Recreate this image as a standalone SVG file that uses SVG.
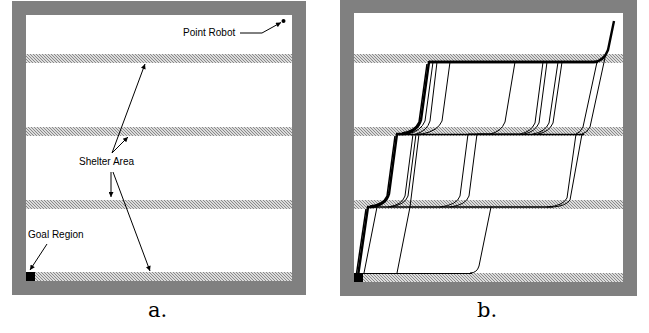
<svg xmlns="http://www.w3.org/2000/svg" width="649" height="333" viewBox="0 0 649 333">
<defs>
<pattern id="hatch" width="3" height="3" patternUnits="userSpaceOnUse">
<rect width="3" height="3" fill="#dcdcdc"/>
<rect x="0" y="0" width="1" height="1" fill="#8a8a8a"/>
<rect x="1" y="1" width="1" height="1" fill="#8a8a8a"/>
<rect x="2" y="2" width="1" height="1" fill="#8a8a8a"/>
</pattern>
<marker id="ah" viewBox="0 0 10 10" refX="10" refY="5" markerWidth="7" markerHeight="5" markerUnits="userSpaceOnUse" orient="auto">
<path d="M0,0 L10,5 L0,10 Z" fill="#000"/>
</marker>
<style>
.frame{fill:#808080}
.inner{fill:#fff}
.band{fill:url(#hatch)}
.lbl{font-family:"Liberation Sans",Arial,sans-serif;font-size:10px;fill:#000}
.cap{font-family:"DejaVu Serif","Liberation Serif",serif;font-size:21px;fill:#000;text-anchor:middle}
.arr{fill:none;stroke:#000;stroke-width:1;marker-end:url(#ah)}
.tr{fill:none;stroke:#000;stroke-width:1;stroke-linejoin:round}
.trm{fill:none;stroke:#000;stroke-width:1.5;stroke-linejoin:round}
.trt{fill:none;stroke:#000;stroke-width:2.4;stroke-linejoin:round}
</style>
</defs>

<!-- Panel a -->
<g id="panel-a">
<rect class="frame" x="12" y="1" width="294" height="294"/>
<rect class="inner" x="26" y="15" width="266" height="266"/>
<g id="a-shelters">
<rect class="band" x="26" y="54" width="266" height="9"/>
<rect class="band" x="26" y="127" width="266" height="9"/>
<rect class="band" x="26" y="200" width="266" height="9"/>
<rect class="band" x="26" y="272" width="266" height="9"/>
</g>
<g id="a-goal"><rect x="26" y="272" width="9" height="9" fill="#000"/></g>
<g id="a-robot"><circle cx="283.5" cy="21" r="2" fill="#000"/></g>
<g id="a-label-robot"><text class="lbl" x="183" y="36">Point Robot</text></g>
<g id="a-label-shelter"><text class="lbl" x="79" y="165">Shelter Area</text></g>
<g id="a-label-goal"><text class="lbl" x="28" y="237.5">Goal Region</text></g>
<g id="a-connectors">
<path class="arr" d="M240,33 L262,33 L281,22.5"/>
<path class="arr" d="M112,153 L145,64"/>
<path class="arr" d="M112,153 L128,137"/>
<path class="arr" d="M111,172 L111,197"/>
<path class="arr" d="M113,172 L150,271"/>
<path class="arr" d="M47,244 L30,270"/>
</g>
<text class="cap" x="157.5" y="317">a.</text>
</g>

<!-- Panel b -->
<g id="panel-b">
<rect class="frame" x="340" y="0" width="297" height="296"/>
<rect class="inner" x="354" y="13" width="269" height="269"/>
<g id="b-shelters">
<rect class="band" x="354" y="54" width="269" height="9"/>
<rect class="band" x="354" y="127" width="269" height="9"/>
<rect class="band" x="354" y="200" width="269" height="9"/>
<rect class="band" x="354" y="273" width="269" height="9"/>
</g>
<g id="b-goal"><rect x="354" y="273" width="9" height="9" fill="#000"/></g>
<g id="b-trajectories">
<!-- horizontals -->
<path class="trt" d="M598,62 L429,62"/>
<path class="trm" d="M584,134.5 L397,134.5"/>
<path class="trm" d="M553,207 L368,207"/>
<path class="tr" d="M472,273.5 L362,273.5"/>
<!-- main trajectory -->
<path class="trt" d="M614,21 L608,50 Q604,61 594,62 L429,62 L421,120 Q418,131 404,134 L397,134 L389,194 Q386,205 372,207 L368,207 L358,276"/>
<path class="trm" d="M427,64 L419,122 Q415,131 402,133"/>
<path class="trm" d="M395,136 L387,196 Q383,205 370,206"/>
<path class="trm" d="M366,209 L356,277"/>
<!-- level 1 descents -->
<path class="tr" d="M433,62 L425,121 Q421,131 408,134"/>
<path class="tr" d="M437,62 L430,121 Q427,131 416,134 L408,196 Q405,205 390,207"/>
<path class="tr" d="M450,62 L442,121 Q438,131 422,134 L419,134 L410,207 L397,273"/>
<path class="tr" d="M515,62 L505,122 Q501,132 490,134 L477,134 L469,196 Q466,205 450,207"/>
<path class="tr" d="M543,62 L535,123 Q531,132 520,134 L468,134 L460,196 Q457,205 440,207"/>
<path class="tr" d="M547,62 L539,123 Q535,132 524,134"/>
<path class="tr" d="M558,62 L549,123 Q545,132 533,134"/>
<path class="tr" d="M562,62 L553,123 Q549,132 538,134"/>
<path class="tr" d="M597,62 L583,127 Q580,133 576,134 L567,198 Q563,206 547,207"/>
<path class="tr" d="M606,53 L590,127 Q587,133 582,134 L570,200 Q566,206 553,207"/>
<!-- level 2 -->
<path class="tr" d="M413,134 L405,196 Q402,205 388,207"/>
<!-- level 3 descents -->
<path class="tr" d="M377,207 L364,273"/>
<path class="tr" d="M491,207 L479,266 Q477,273 470,273"/>
</g>
<text class="cap" x="487" y="317">b.</text>
</g>
</svg>
